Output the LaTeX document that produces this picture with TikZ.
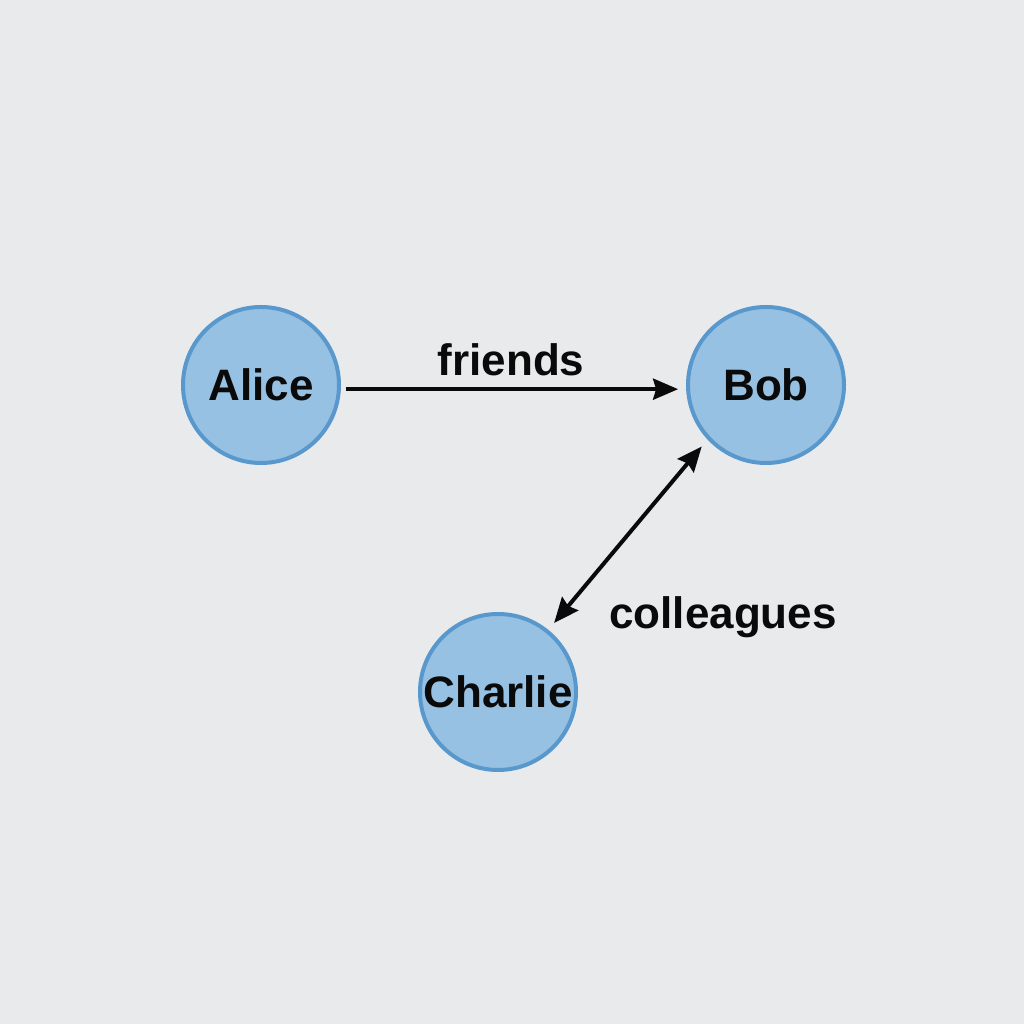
\documentclass[tikz,border=0pt]{standalone}
\usepackage{fontspec}
\setmainfont{Liberation Sans}
\usetikzlibrary{arrows.meta}
\definecolor{bgc}{RGB}{233,234,235}
\definecolor{nodefill}{RGB}{150,193,226}
\definecolor{nodeline}{RGB}{88,152,205}
\definecolor{txt}{RGB}{10,10,10}
\tikzset{
  person/.style={circle, draw=nodeline, fill=nodefill, line width=4pt, minimum size=156pt, inner sep=0pt, font=\fontsize{44}{52}\selectfont\bfseries, text=txt},
  rel/.style={line width=4pt, draw=txt},
  headtip/.tip={Stealth[length=25pt,width=21pt,inset=3pt]},
  lbl/.style={font=\fontsize{44}{52}\selectfont\bfseries, text=txt, inner sep=0pt}
}
\begin{document}
\begin{tikzpicture}[x=1pt,y=1pt]
\fill[bgc] (0,0) rectangle (1024,1024);
\useasboundingbox (0,0) rectangle (1024,1024);
\node[person] (alice) at (261,639) {Alice};
\node[person] (bob) at (766,639) {Bob};
\node[person] (charlie) at (498,332) {Charlie};
\draw[rel, -headtip, shorten <=5pt, shorten >=8pt] (alice.-3.5) -- (bob.183.5);
\draw[rel, headtip-headtip, shorten <=9pt, shorten >=9pt] (charlie.51) -- (bob.223);
\node[lbl] (friends) at (511,664) {friends};
\node[lbl] (colleagues) at (723,407) {colleagues};
\end{tikzpicture}
\end{document}
